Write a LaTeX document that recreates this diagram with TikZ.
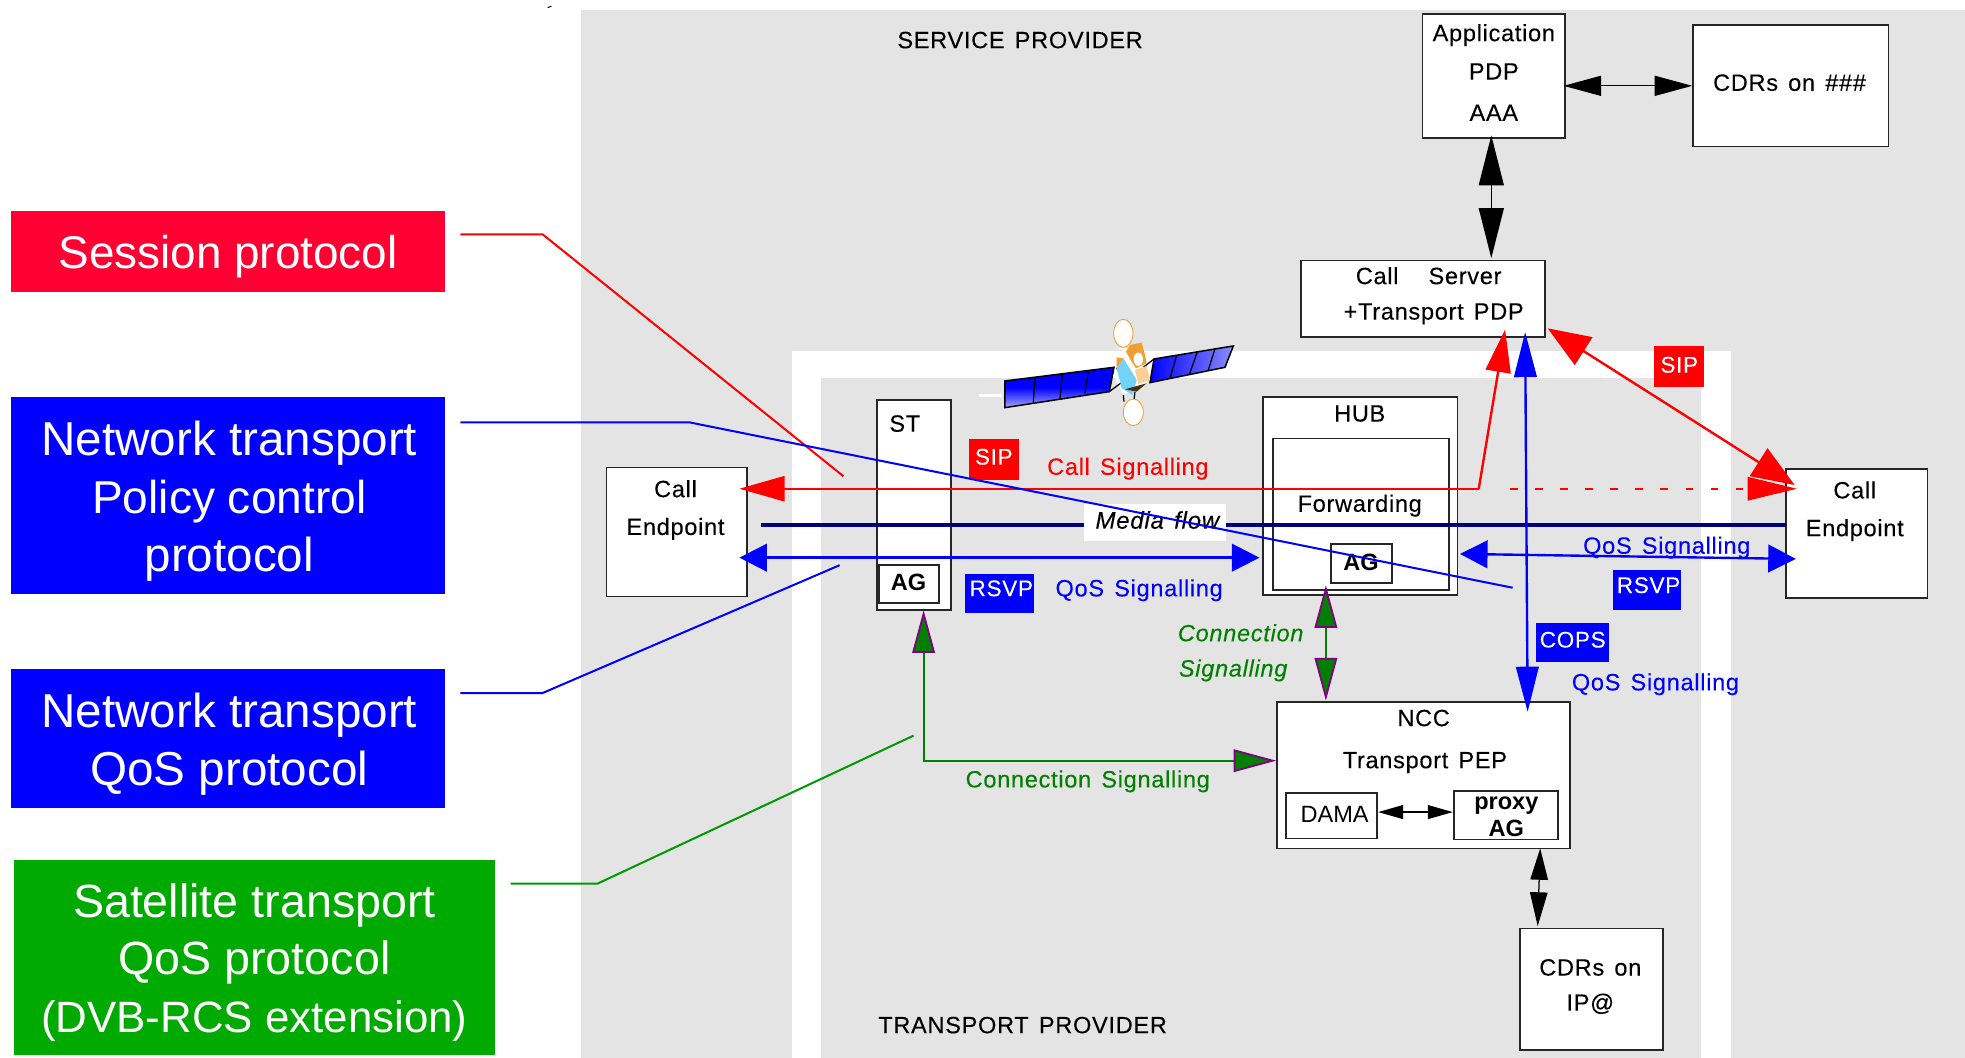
\documentclass[tikz,border=0pt]{standalone}
\usepackage{fontspec}
\setmainfont{Liberation Sans}
\newfontfamily\lab[LetterSpace=3,WordSpace=1.4,FakeBold=0.15]{Liberation Sans}
\newfontfamily\leg{Liberation Sans}
\usetikzlibrary{arrows.meta,fit,shadings}
\definecolor{bggray}{HTML}{E4E4E4}
\definecolor{cred}{HTML}{FF0000}
\definecolor{cblue}{HTML}{0000FF}
\definecolor{dgreen}{HTML}{007F00}
\definecolor{lgreen}{HTML}{00AA00}
\definecolor{sesred}{HTML}{FF0033}
\definecolor{navyb}{HTML}{000080}
\definecolor{purp}{HTML}{800080}
\definecolor{orsat}{HTML}{F0A030}
\newcommand{\lift}[2]{\raisebox{#1}[\height][\depth]{#2}}
\newcommand{\lfs}[1]{\fontsize{#1}{23}\selectfont}
\tikzset{
  x=0.5pt,y=-0.5pt,
  box/.style={draw=black!85,fill=white,line width=0.65pt,inner sep=0pt},
  txt/.style={font=\lab\fontsize{9.4}{11}\selectfont,text=black,inner sep=0pt},
  btxt/.style={font=\leg\bfseries\fontsize{9.4}{11}\selectfont,text=black,inner sep=0pt},
  redt/.style={txt,text=cred},
  bluet/.style={txt,text=cblue},
  greent/.style={txt,text=dgreen},
  greeni/.style={txt,text=dgreen,font=\lab\itshape\fontsize{9.4}{11}\selectfont},
  tagbox/.style={inner sep=0pt,text=white,font=\lab\fontsize{9}{11}\selectfont},
  legbox/.style={inner sep=0pt},
  legt/.style={text=white,font=\leg\fontsize{19}{23}\selectfont,align=center,inner sep=0pt},
  legline/.style={line width=0.8pt},
  blk/.style={draw=black,line width=0.5pt,{Triangle[length=15pt,width=8pt,color=black]}-{Triangle[length=15pt,width=8pt,color=black]}},
  blkn/.style={draw=black,line width=0.5pt,{Triangle[length=12.5pt,width=7pt,color=black]}-{Triangle[length=13.5pt,width=7pt,color=black]}},
  blkbig/.style={draw=black,line width=0.5pt,{Triangle[length=20pt,width=10pt,color=black]}-{Triangle[length=20pt,width=10pt,color=black]}},
  blksm/.style={draw=black,line width=0.7pt,{Triangle[length=10pt,width=5.5pt,color=black]}-{Triangle[length=10pt,width=5.5pt,color=black]}},
  redarr/.style={draw=cred,line width=0.95pt},
  bluearr/.style={draw=cblue,line width=0.95pt},
  grn/.style={draw=dgreen,line width=0.75pt},
  rtip/.tip={Triangle[length=17pt,width=13pt,color=cred]},
  btip/.tip={Triangle[length=11pt,width=11pt,color=cblue]},
  bvtip/.tip={Triangle[length=18pt,width=9pt,color=cblue]},
  gtip/.tip={Triangle[length=17pt,width=9pt,fill=dgreen,color=purp,line width=0.7pt]},
}
\begin{document}
\begin{tikzpicture}
\useasboundingbox (0,0) rectangle (1568,844.2);
% backgrounds
\fill[bggray] (464,8) rectangle (1568,844.2);
\fill[white] (632,280) rectangle (1381,844.2);
\fill[bggray] (655,302) rectangle (1357,844.2);
\draw[black,line width=0.4pt] (437,6) -- (440,5);

% legend
\node[legbox,fill=sesred,fit={(9,168)(355,233)}] (lsess) {};
\node[legt,font=\leg\fontsize{18.3}{23}\selectfont] (lsesst) at (182,205) {Session protocol};
\node[legbox,fill=cblue,fit={(9,317)(355,474)}] (lpol) {};
\node[legt] (lpolt) at (183,400) {Network transport\\\lfs{18.4}Policy control\\protocol};
\node[legbox,fill=cblue,fit={(9,534)(355,645)}] (lqos) {};
\node[legt] (lqost) at (183,594) {Network transport\\QoS protocol};
\node[legbox,fill=lgreen,fit={(11,686)(395,842)}] (lsat) {};
\node[legt,font=\leg\fontsize{18.6}{23}\selectfont] (lsatt) at (203,768) {Satellite transport\\QoS protocol\\\lfs{17.5}(DVB-RCS extension)};

% satellite
\begin{scope}[shift={(758.05,223.4)},x=0.133pt,y=-0.133pt]
  \draw[white,line width=1.2pt] (87,347) -- (157,347);
  \shade[top color=cblue,bottom color=cblue!35!white,middle color=cblue,draw=black,line width=0.6pt]
    (165,303) -- (492,262) -- (478,335) -- (165,383) -- cycle;
  \draw[black,line width=0.5pt] (255,293) -- (250,368) (338,283) -- (330,356) (415,272) -- (405,340);
  \shade[left color=cblue,right color=cblue!45!white,draw=black,line width=0.6pt]
    (612,237) -- (850,198) -- (825,262) -- (600,308) -- cycle;
  \draw[black,line width=0.5pt] (680,226) -- (660,295) (742,216) -- (718,283) (795,206) -- (775,270);
  \fill[white] (498,205) -- (530,205) -- (530,240) -- (500,265) -- (498,300) -- (520,345) -- (590,310) -- (600,240) -- cycle;
  \draw[black,line width=0.5pt] (478,335) -- (525,300) -- (500,265) (580,262) -- (612,237);
  \fill[orsat] (528,215) -- (540,195) -- (575,188) -- (585,225) -- (590,250) -- (558,265) -- (545,245) -- cycle;
  \fill[orsat!50!white] (555,270) -- (590,258) -- (600,300) -- (565,312) -- cycle;
  \fill[cyan!55!white] (500,265) -- (520,235) -- (560,300) -- (548,345) -- (515,325) -- cycle;
  \draw[black,line width=0.5pt] (520,345) -- (522,365) (555,335) -- (552,360);
  \fill[black!70!orsat] (525,328) -- (590,310) -- (560,335) -- cycle;
  \fill[orsat] (500,232) -- (520,235) -- (510,250) -- (500,265) -- cycle;
  \fill[white] (565,238) ellipse (14 and 20);
  \draw[orsat,fill=white,line width=0.35pt] (520,160) ellipse (29 and 42);
  \draw[orsat,fill=white,line width=0.35pt] (550,397) ellipse (30 and 40);
\end{scope}

% boxes
\node[box,fit={(1135,11)(1249,110)}] (app) {};
\node[box,fit={(1351,20)(1507,117)}] (cdr) {};
\node[box,fit={(1038,208)(1233,269)}] (cs) {};
\node[box,fit={(700,319)(759,487)}] (st) {};
\node[box,fit={(484,373)(596,476)}] (cel) {};
\node[box,fit={(1425,374)(1538,477)}] (cer) {};
\node[box,fit={(1008,317)(1163,475)}] (hub) {};
\node[box,fit={(1016,350)(1156,471)}] (fwd) {};
\node[box,fit={(1019,560)(1253,677)}] (ncc) {};
\node[box,fit={(1213,741)(1327,838)}] (cdr2) {};

% media flow
\coordinate (m1) at (607,419); \coordinate (m2) at (1425,419);
\draw[navyb,line width=1.8pt] (m1) -- (m2);
\node[fill=white,inner sep=0pt,minimum width=56.5pt,minimum height=15pt,font=\lab\itshape\fontsize{9.6}{11}\selectfont] (mf) at (921.5,417) {\lift{1pt}{\hspace{2pt}Media flow}};

% inner boxes
\node[box,line width=0.8pt,fit={(701,451)(749,481)}] (agst) {};
\node[btxt] at (725,465) {AG};
\node[box,line width=0.8pt,fit={(1062,434)(1111,465)}] (aghub) {};
\node[btxt] at (1086,449) {AG};
\node[box,fit={(1026,633)(1099,669)}] (dama) {};
\node[box,fit={(1160,631)(1243,670)}] (pag) {};

% call signalling
\coordinate (rj) at (1180,390);
\coordinate (rl) at (590,390);
\coordinate (rt) at (1201,263);
\coordinate (rr) at (1432,390);
\draw[redarr,{rtip[length=18pt,width=10pt]}-] (rl) -- (rj);
\draw[redarr,-{rtip[length=17pt,width=10pt]}] (rj) -- (rt);
\draw[draw=cred,line width=0.7pt,dash pattern=on 3pt off 7pt] (1205,390) -- (1395,390);
\draw[cred,fill=cred] (rr) -- (1395,381) -- (1395,399) -- cycle;
\coordinate (rd1) at (1235,262); \coordinate (rd2) at (1432,387);
\draw[redarr,rtip-rtip] (rd1) -- (rd2);

% QoS
\coordinate (bl1) at (590,445); \coordinate (bl2) at (1005,445);
\draw[bluearr,btip-btip] (bl1) -- (bl2);
\coordinate (br1) at (1165,442); \coordinate (br2) at (1433,446);
\draw[bluearr,btip-btip] (br1) -- (br2);
\coordinate (bv1) at (1217,265); \coordinate (bv2) at (1219,568);
\draw[bluearr,bvtip-bvtip] (bv1) -- (bv2);

% green connectors
\coordinate (gu) at (737,487); \coordinate (gc) at (737,607);
\draw[grn,{gtip}-{gtip}] (gu) -- (gc) -- (ncc.west |- gc);
\coordinate (gv1) at (1058,467); \coordinate (gv2) at (1058,559);
\draw[grn,{gtip}-{gtip}] (gv1) -- (gv2);

% black connectors
\draw[blk] ([xshift=-1pt]app.east |- cdr.west) -- (cdr.west);
\draw[blkbig] (1190,108) -- (1190,206);
\draw[blksm] (dama.east |- 0,648) -- (pag.west |- 0,648);
\coordinate (n1) at (1229,677); \coordinate (n2) at (1227,739);
\draw[blkn] (n1) -- (n2);

% tags
\node[tagbox,fill=cred,minimum width=20pt,minimum height=16.5pt] (sip1) at (793,366.5) {\lift{1pt}{SIP}};
\node[tagbox,fill=cred,minimum width=20pt,minimum height=16.5pt] (sip2) at (1340,292.5) {\lift{0.7pt}{SIP}};
\node[tagbox,fill=cblue,minimum width=27.5pt,minimum height=15.5pt] (rsvp1) at (797.5,473.5) {\lift{2pt}{\hspace{1.5pt}RSVP}};
\node[tagbox,fill=cblue,minimum width=27pt,minimum height=16pt] (rsvp2) at (1314,471) {\lift{2pt}{\hspace{1.5pt}RSVP}};
\node[tagbox,fill=cblue,minimum width=29pt,minimum height=15.5pt] (cops) at (1255,512.5) {\lift{1pt}{COPS}};

% texts
\node[txt] (tsp) at (814,32) {SERVICE PROVIDER};
\node[txt] (ttp) at (816,818) {TRANSPORT PROVIDER};
\node[txt] at (1192,28) {Application};
\node[txt] at (1192,57) {PDP};
\node[txt] at (1192,90) {AAA};
\node[txt] at (1428,66) {CDRs on \#\#\#};
\node[txt] at (1140,220) {Call\hspace{12pt}Server};
\node[txt] at (1144,250.5) {+Transport PDP};
\node[txt] at (722,338) {ST};
\node[txt] at (539,390) {Call};
\node[txt] at (539,422) {Endpoint};
\node[txt] at (1480,391) {Call};
\node[txt] at (1480,423) {Endpoint};
\node[txt] at (1085,330) {HUB};
\node[txt] at (1085,403.5) {Forwarding};
\node[txt] at (1136,573) {NCC};
\node[txt] at (1137,608.5) {Transport PEP};
\node[txt,font=\leg\fontsize{9.4}{11}\selectfont] at (1065,650) {DAMA};
\node[btxt] at (1202,642.5) {proxy};
\node[btxt] at (1202,661) {AG};
\node[txt] at (1269,772) {CDRs on};
\node[txt] at (1269,801) {IP@};
\node[redt] at (900,374) {Call Signalling};
\node[bluet] at (909,471) {QoS Signalling};
\node[bluet] at (1330,437) {QoS Signalling};
\node[bluet] at (1321,546) {QoS Signalling};
\node[greeni] at (990,505) {Connection};
\node[greeni] at (984,535) {Signalling};
\node[greent] at (868,623.5) {Connection Signalling};

% legend leader lines
\coordinate (r1) at (433,187); \coordinate (r2) at (673,380);
\draw[legline,cred] ([xshift=6pt,yshift=6.75pt]lsess.east) -- (r1) -- (r2);
\coordinate (b1) at (550,337); \coordinate (b2) at (1207,469);
\draw[legline,cblue] ([xshift=6pt,yshift=29.25pt]lpol.east) -- (b1) -- (b2);
\coordinate (q1) at (433,553); \coordinate (q2) at (670,451);
\draw[legline,cblue] ([xshift=6pt,yshift=18.25pt]lqos.east) -- (q1) -- (q2);
\coordinate (g1) at (477,705); \coordinate (g2) at (729,587);
\draw[legline,lgreen!90!black] ([xshift=6pt,yshift=29.5pt]lsat.east) -- (g1) -- (g2);
\end{tikzpicture}
\end{document}
